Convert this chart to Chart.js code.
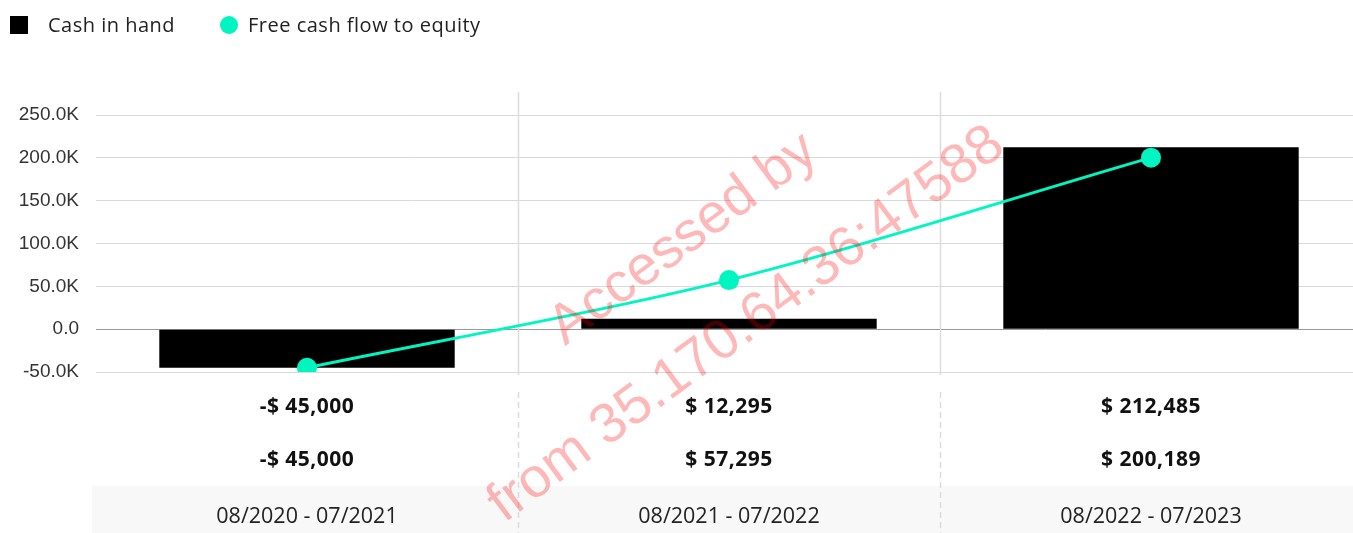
<!DOCTYPE html>
<html>
<head>
    <meta charset="UTF-8">
    <title>Cash chart</title>
    <script src="https://cdn.jsdelivr.net/npm/chart.js@4.4.0/dist/chart.umd.min.js"></script>
    <style>
        body { margin: 0; overflow: hidden; background: #fff; font-family: "Open Sans", sans-serif; }
        #wrap { position: relative; width: 1372px; height: 533px; }
        #legend { position: absolute; left: 0; top: 0; height: 50px; }
        .item { position: absolute; top: 11px; font-size: 20px; letter-spacing: 0.5px; color: #222; line-height: 28px; white-space: nowrap; }
        .swatch { position: absolute; top: 16px; width: 18px; height: 18px; }
    </style>
</head>
<body>
<div id="wrap">
    <canvas id="myChart" width="1372" height="533"></canvas>
    <div id="legend"></div>
</div>
<script>
    var periods = ['08/2020 - 07/2021', '08/2021 - 07/2022', '08/2022 - 07/2023'];
    var cashInHand = [-45000, 12295, 212485];
    var freeCashFlow = [-45000, 57295, 200189];
    var yTicks = [-50000, 0, 50000, 100000, 150000, 200000, 250000];

    var teal = '#00f5c0';

    function money(v) {
        var s = '$ ' + Math.abs(v).toLocaleString('en-US');
        return v < 0 ? '-' + s : s;
    }

    // legend (html)
    var legend = document.getElementById('legend');
    legend.innerHTML =
        '<div class="swatch" style="left:10px;background:#000"></div>' +
        '<div class="item" style="left:48px">Cash in hand</div>' +
        '<div class="swatch" style="left:220px;background:' + teal + ';border-radius:50%"></div>' +
        '<div class="item" style="left:248px">Free cash flow to equity</div>';

    var extras = {
        id: 'extras',
        beforeDraw: function(chart) {
            var ctx = chart.ctx;
            ctx.save();
            ctx.fillStyle = '#f8f8f8';
            ctx.fillRect(92, 486, chart.width - 92, 533 - 486);
            ctx.restore();
        },
        beforeDatasetsDraw: function(chart) {
            var ctx = chart.ctx, x = chart.scales.x, area = chart.chartArea;
            ctx.save();
            ctx.strokeStyle = '#dcdcdc';
            ctx.lineWidth = 1.5;
            for (var i = 0; i < periods.length - 1; i++) {
                var px = Math.round((x.getPixelForValue(i) + x.getPixelForValue(i + 1)) / 2) + 0.5;
                ctx.setLineDash([]);
                ctx.beginPath();
                ctx.moveTo(px, area.top - 23);
                ctx.lineTo(px, area.bottom + 3);
                ctx.stroke();
                ctx.setLineDash([6, 4]);
                ctx.beginPath();
                ctx.moveTo(px, area.bottom + 20);
                ctx.lineTo(px, chart.height);
                ctx.stroke();
            }
            ctx.restore();
        },
        afterDraw: function(chart) {
            var ctx = chart.ctx, x = chart.scales.x;
            ctx.save();
            ctx.fillStyle = '#111';
            ctx.font = 'bold 21px "Open Sans"';
            ctx.letterSpacing = '0.5px';
            ctx.textAlign = 'center';
            ctx.textBaseline = 'middle';
            for (var i = 0; i < periods.length; i++) {
                var px = x.getPixelForValue(i);
                ctx.fillText(money(cashInHand[i]), px, 407);
                ctx.fillText(money(freeCashFlow[i]), px, 460);
            }
            ctx.letterSpacing = '0px';
            // watermark
            ctx.translate(715, 282);
            ctx.rotate(-36.5 * Math.PI / 180);
            ctx.fillStyle = 'rgba(255, 0, 0, 0.28)';
            ctx.font = '56px "Liberation Sans"';
            ctx.fillText('Accessed by', 0, -53);
            ctx.fillText('from 35.170.64.36:47588', 0, 53);
            ctx.restore();
        }
    };

    var ctx = document.getElementById('myChart').getContext('2d');
    new Chart(ctx, {
        data: {
            labels: periods,
            datasets: [{
                type: 'line',
                label: 'Free cash flow to equity',
                data: freeCashFlow,
                borderColor: teal,
                backgroundColor: teal,
                borderWidth: 3,
                pointRadius: 10,
                pointHoverRadius: 10,
                pointBorderWidth: 0,
                tension: 0.3,
                order: 0
            }, {
                type: 'bar',
                label: 'Cash in hand',
                data: cashInHand,
                backgroundColor: '#000',
                categoryPercentage: 0.7,
                barPercentage: 1,
                order: 1
            }]
        },
        options: {
            responsive: false,
            animation: false,
            layout: { padding: { top: 115, bottom: 0, left: 0, right: 0 } },
            plugins: {
                legend: { display: false },
                tooltip: { enabled: false }
            },
            scales: {
                x: {
                    afterFit: function(s) { s.height = 161; },
                    grid: { display: false },
                    border: { display: false },
                    ticks: {
                        padding: 124,
                        color: '#222',
                        font: { family: 'Open Sans', size: 21.5 }
                    }
                },
                y: {
                    min: -50000,
                    max: 250000,
                    afterFit: function(s) { s.width = 96; },
                    afterBuildTicks: function(s) { s.ticks = yTicks.map(function(v) { return { value: v }; }); },
                    border: { display: false },
                    grid: {
                        drawTicks: false,
                        lineWidth: 1,
                        color: function(c) { return c.tick && c.tick.value === 0 ? '#9a9a9a' : '#d9d9d9'; }
                    },
                    ticks: {
                        padding: 17,
                        color: '#333',
                        font: { family: 'Liberation Sans', size: 19 },
                        callback: function(v) { return v === 0 ? '0.0' : (v / 1000).toFixed(1) + 'K'; }
                    }
                }
            }
        },
        plugins: [extras]
    });
</script>
</body>
</html>
